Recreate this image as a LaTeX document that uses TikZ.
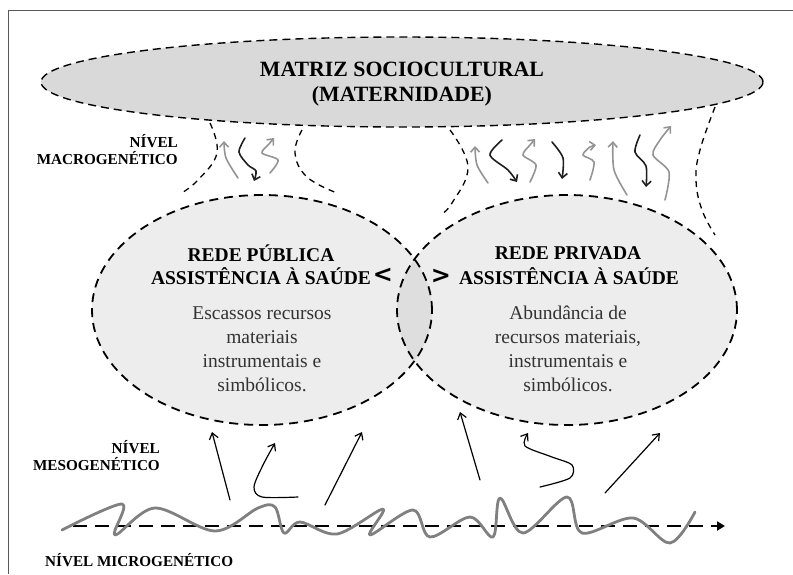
\documentclass[tikz,border=0pt]{standalone}
\usepackage{fontspec}
\setmainfont{Liberation Serif}
\newfontfamily\chevronfont{DejaVu Sans}
\usetikzlibrary{arrows.meta}
\begin{document}
\begin{tikzpicture}[x=1pt,y=-1pt,
  title/.style={font=\bfseries\fontsize{19.5}{22}\selectfont, inner sep=0pt},
  matrixtitle/.style={font=\bfseries\fontsize{21.8}{25}\selectfont, align=center, inner sep=0pt},
  body/.style={font=\fontsize{19.5}{24}\selectfont, text=black!80, align=center, inner sep=0pt},
  level/.style={font=\bfseries\fontsize{15.2}{17}\selectfont, align=right, inner sep=0pt},
  cmp/.style={font=\chevronfont\bfseries\fontsize{24}{24}\selectfont, inner sep=0pt},
  topdash/.style={dash pattern=on 8pt off 5pt, line width=1.4pt},
  celldash/.style={dash pattern=on 9pt off 6pt, line width=1.8pt},
  neckdash/.style={dash pattern=on 6pt off 5pt, line width=1.3pt},
  upgray/.style={draw=black!42, line width=1.6pt, line cap=round, -{Straight Barb[length=5pt,width=9pt]}},
  downblack/.style={draw=black!88, line width=1.6pt, line cap=round, -{Straight Barb[length=5pt,width=9pt]}},
  meso/.style={draw=black, line width=1.2pt, line cap=round, -{Straight Barb[length=6pt,width=9pt]}},
]
\useasboundingbox (0,0) rectangle (793,574);

% frame
\draw[black!65, line width=1pt] (8,574) -- (8,10) -- (793,10);

% sociocultural matrix
\path[fill=black!15] (402,82) ellipse [x radius=361pt, y radius=45pt];
\draw[topdash] (402,82) ellipse [x radius=361pt, y radius=45pt];
\node[matrixtitle] (matriz) at (402,84) {MATRIZ SOCIOCULTURAL\\(MATERNIDADE)};

% necks linking the matrix to the two health networks
\draw[neckdash] plot[smooth, tension=0.7] coordinates {(210,123) (217,153) (198,180) (180,194)};
\draw[neckdash] plot[smooth, tension=0.7] coordinates {(302,130) (295,153) (307,177) (337,193)};
\draw[neckdash] plot[smooth, tension=0.7] coordinates {(450,130) (468,167) (452,203) (440,215)};
\draw[neckdash] plot[smooth, tension=0.7] coordinates {(715,107) (700,150) (696,180) (702,210) (715,235)};

% health networks
\path[fill=black!7] (262,310) ellipse [x radius=170pt, y radius=115pt];
\path[fill=black!7] (567,310) ellipse [x radius=170pt, y radius=115pt];
\begin{scope}
  \clip (262,310) ellipse [x radius=170pt, y radius=115pt];
  \path[fill=black!13] (567,310) ellipse [x radius=170pt, y radius=115pt];
\end{scope}
\draw[celldash] (262,310) ellipse [x radius=170pt, y radius=115pt];
\draw[celldash] (567,310) ellipse [x radius=170pt, y radius=115pt];

\node[title] (pubA) at (261,253) {REDE PÚBLICA};
\node[title] (pubB) at (261,276) {ASSISTÊNCIA À SAÚDE};
\node[cmp] (lt) at (383,275) {<};
\node[body] (pubtxt) at (262,349) {Escassos recursos\\materiais\\instrumentais e\\simbólicos.};

\node[title] (priA) at (568,253) {REDE PRIVADA};
\node[title] (priB) at (569,276) {ASSISTÊNCIA À SAÚDE};
\node[cmp] (gt) at (441,276) {>};
\node[body] (pritxt) at (568,349) {Abundância de\\recursos materiais,\\instrumentais e\\simbólicos.};

% level labels
\node[level, anchor=east] (macro) at (178,150) {NÍVEL\\MACROGENÉTICO};
\node[level, anchor=east] (meso) at (160,456) {NÍVEL\\MESOGENÉTICO};
\node[level, anchor=west] (micro) at (45,560) {NÍVEL MICROGENÉTICO};

% macrogenetic exchanges
\draw[upgray] plot[smooth] coordinates {(238,178) (226,158) (224,141)};
\draw[downblack] plot[smooth] coordinates {(245,138) (239,152) (248,165) (256,171) (254,181)};
\draw[upgray] plot[smooth] coordinates {(270,173) (278,160) (262,153) (269,144) (274,138)};

\draw[upgray] plot[smooth] coordinates {(488,183) (477,165) (475,146)};
\draw[downblack] plot[smooth] coordinates {(502,140) (490,155) (508,170) (517,182)};
\draw[upgray] plot[smooth] coordinates {(530,182) (536,165) (523,155) (530,145) (535,139)};
\draw[downblack] plot[smooth] coordinates {(552,142) (563,158) (562,179)};
\draw[upgray] plot[smooth] coordinates {(590,180) (594,162) (583,155) (590,147) (596,145)};
\draw[upgray] plot[smooth] coordinates {(627,195) (614,170) (613,141)};
\draw[downblack] plot[smooth] coordinates {(640,135) (635,152) (646,166) (646,187)};
\draw[upgray] plot[smooth] coordinates {(665,200) (669,172) (653,155) (660,140) (671,126)};

% mesogenetic arrows
\draw[meso] (230,500) -- (212,432);
\draw[meso] plot[smooth] coordinates {(298,497) (262,497) (254,487) (263,465) (275,443)};
\draw[meso] (325,505) -- (362,432);
\draw[meso] (480,480) -- (460,412);
\draw[meso] plot[smooth] coordinates {(540,487) (570,478) (572,465) (552,457) (525,446) (528,433)};
\draw[meso] (605,493) -- (660,433);

% microgenetic time line
\draw[black, line width=2.6pt, dash pattern=on 14pt off 8pt, -{Triangle[length=8pt,width=9pt]}]
  (73,526) coordinate (tstart) -- (725,526) coordinate (tend);
\draw[black!50, line width=2.8pt, line cap=round, line join=round]
  plot[smooth, tension=0.55] coordinates {(62,530) (122,504) (115,535) (155,508) (215,531)
  (258,508) (275,507) (284,533) (300,522) (337,534) (383,509) (370,535) (413,510) (430,537)
  (470,517) (493,537) (500,498) (523,533) (567,497) (582,533) (633,518) (670,543) (695,512)};
\end{tikzpicture}
\end{document}
